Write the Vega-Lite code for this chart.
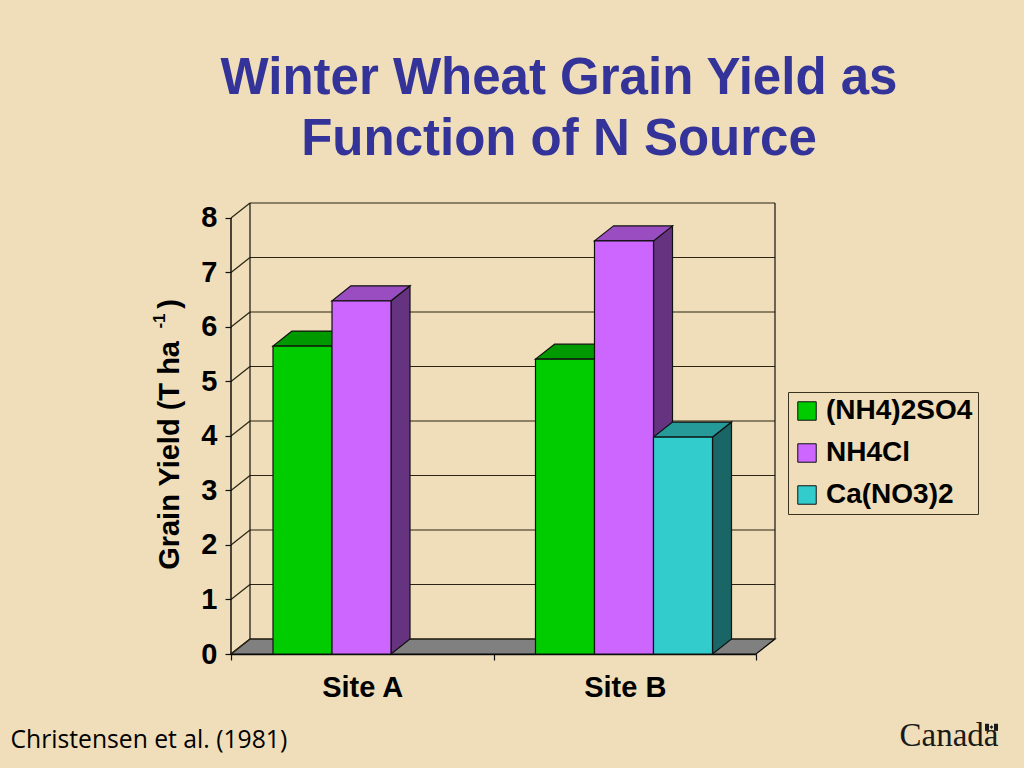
{
"$schema":"https://vega.github.io/schema/vega-lite/v6.json",
"width":544,"height":451,
"autosize":{"type":"none"},
"padding":{"left":231,"top":203,"right":249,"bottom":114},
"background":"#EFDEB9",
"config":{"view":{"stroke":null},"font":"Liberation Sans"},
"title":{"text":["Winter Wheat Grain Yield as","Function of N Source"],"font":"Liberation Sans","fontSize":51,"fontWeight":"bold","color":"#333399","lineHeight":61,"anchor":"middle","dx":56,"offset":36},
"datasets":{
"bars":[
{"site":"Site A","series":"(NH4)2SO4","value":5.65},
{"site":"Site A","series":"NH4Cl","value":6.48},
{"site":"Site B","series":"(NH4)2SO4","value":5.41},
{"site":"Site B","series":"NH4Cl","value":7.58},
{"site":"Site B","series":"Ca(NO3)2","value":3.98}],
"ticks":[{"t":0},{"t":1},{"t":2},{"t":3},{"t":4},{"t":5},{"t":6},{"t":7},{"t":8}],
"sites":[{"site":"Site A"},{"site":"Site B"}],
"depths":[{"d":0},{"d":1}]
},
"resolve":{"scale":{"x":"independent","color":"independent"},"axis":{"x":"independent","y":"independent"}},
"layer":[
{"data":{"name":"depths"},
 "transform":[{"calculate":"19*datum.d","as":"a"},{"calculate":"525+19*datum.d","as":"b"},{"calculate":"0.275*datum.d","as":"h"}],
 "mark":{"type":"area","orient":"horizontal","fill":"#808080","stroke":"black","strokeWidth":1.2},
 "encoding":{"x":{"field":"a","type":"quantitative","scale":{"domain":[0,544]},"axis":null},"x2":{"field":"b"},"y":{"field":"h","type":"quantitative","scale":{"domain":[0,8.275],"nice":false},"axis":null}}},
{"data":{"name":"ticks"},
 "transform":[{"calculate":"datum.t+0.275","as":"h"}],
 "mark":{"type":"rule","color":"#2b2413","strokeWidth":1.2},
 "encoding":{"x":{"datum":19,"type":"quantitative","scale":{"domain":[0,544]},"axis":null},"x2":{"datum":544},"y":{"field":"h","type":"quantitative","scale":{"domain":[0,8.275],"nice":false},"axis":null}}},
{"data":{"name":"ticks"},
 "transform":[{"calculate":"datum.t+0.275","as":"h"}],
 "mark":{"type":"rule","color":"#2b2413","strokeWidth":1.2},
 "encoding":{"x":{"datum":0,"type":"quantitative","scale":{"domain":[0,544]},"axis":null},"x2":{"datum":19},"y":{"field":"t","type":"quantitative","scale":{"domain":[0,8.275],"nice":false},"axis":null},"y2":{"field":"h"}}},
{"data":{"values":[{"wall":"back left"}]},
 "mark":{"type":"rule","color":"#111111","strokeWidth":1.2},
 "encoding":{"x":{"datum":19,"type":"quantitative","scale":{"domain":[0,544]},"axis":null},"y":{"datum":0.275,"type":"quantitative","scale":{"domain":[0,8.275],"nice":false},"axis":null},"y2":{"datum":8.275}}},
{"data":{"values":[{"wall":"back right"}]},
 "mark":{"type":"rule","color":"#111111","strokeWidth":1.2},
 "encoding":{"x":{"datum":544,"type":"quantitative","scale":{"domain":[0,544]},"axis":null},"y":{"datum":0.275,"type":"quantitative","scale":{"domain":[0,8.275],"nice":false},"axis":null},"y2":{"datum":8.275}}},
{"data":{"values":[{"wall":"front left"}]},
 "mark":{"type":"rule","color":"#111111","strokeWidth":1.5},
 "encoding":{"x":{"datum":0,"type":"quantitative","scale":{"domain":[0,544]},"axis":null},"y":{"datum":0,"type":"quantitative","scale":{"domain":[0,8.275],"nice":false},"axis":null},"y2":{"datum":8}}},
{"data":{"name":"bars"},
 "transform":[
  {"calculate":"[0,1]","as":"d"},{"flatten":["d"]},
  {"calculate":"42+262.5*indexof(['Site A','Site B'],datum.site)+59*indexof(['(NH4)2SO4','NH4Cl','Ca(NO3)2'],datum.series)+59+19*datum.d","as":"a"},
  {"calculate":"0.275*datum.d","as":"lo"},{"calculate":"datum.value+0.275*datum.d","as":"hi"},{"calculate":"datum.site+datum.series","as":"bar"}],
 "mark":{"type":"area","stroke":"#111111","strokeWidth":1.2},
 "encoding":{"x":{"field":"a","type":"quantitative","scale":{"domain":[0,544]},"axis":null},"y":{"field":"lo","type":"quantitative","scale":{"domain":[0,8.275],"nice":false},"axis":null},"y2":{"field":"hi"},"detail":{"field":"bar"},
 "color":{"field":"series","type":"nominal","legend":null,"scale":{"domain":["(NH4)2SO4","NH4Cl","Ca(NO3)2"],"range":["#006600","#663380","#1A6666"]}}}},
{"data":{"name":"bars"},
 "transform":[
  {"calculate":"[0,1]","as":"d"},{"flatten":["d"]},
  {"calculate":"42+262.5*indexof(['Site A','Site B'],datum.site)+59*indexof(['(NH4)2SO4','NH4Cl','Ca(NO3)2'],datum.series)+19*datum.d","as":"a"},
  {"calculate":"datum.a+59","as":"b"},
  {"calculate":"datum.value+0.275*datum.d","as":"hi"},{"calculate":"datum.site+datum.series","as":"bar"}],
 "mark":{"type":"area","orient":"horizontal","stroke":"#111111","strokeWidth":1.2},
 "encoding":{"x":{"field":"a","type":"quantitative","scale":{"domain":[0,544]},"axis":null},"x2":{"field":"b"},"y":{"field":"hi","type":"quantitative","scale":{"domain":[0,8.275],"nice":false},"axis":null},"detail":{"field":"bar"},
 "color":{"field":"series","type":"nominal","legend":null,"scale":{"domain":["(NH4)2SO4","NH4Cl","Ca(NO3)2"],"range":["#009900","#9A4DC0","#269999"]}}}},
{"data":{"name":"bars"},
 "transform":[
  {"calculate":"42+262.5*indexof(['Site A','Site B'],datum.site)+59*indexof(['(NH4)2SO4','NH4Cl','Ca(NO3)2'],datum.series)","as":"a"},
  {"calculate":"datum.a+59","as":"b"}],
 "mark":{"type":"rect","stroke":"#111111","strokeWidth":1.2},
 "encoding":{"x":{"field":"a","type":"quantitative","scale":{"domain":[0,544]},"axis":null},"x2":{"field":"b"},"y":{"field":"value","type":"quantitative","scale":{"domain":[0,8.275],"nice":false},
   "axis":{"orient":"left","values":[0,1,2,3,4,5,6,7,8],"format":"d","domain":false,"grid":false,"tickColor":"#111111","tickSize":6,"tickWidth":1.2,"labelFont":"Liberation Sans","labelFontWeight":"bold","labelFontSize":29,"labelColor":"black","labelPadding":8,"title":"Grain Yield (T ha\u00a0\u00a0\u00a0\u00a0)","titleFont":"Liberation Sans","titleFontWeight":"bold","titleFontSize":29,"titleColor":"black","titleX":-47,"titleY":231,"titleAnchor":"middle","titleAngle":270}},"y2":{"datum":0},
 "color":{"field":"series","type":"nominal","scale":{"domain":["(NH4)2SO4","NH4Cl","Ca(NO3)2"],"range":["#00CC00","#CC66FF","#33CCCC"]},
  "legend":{"orient":"none","legendX":557,"legendY":189,"title":null,"fillColor":"transparent","strokeColor":"#3a3320","padding":5,"symbolType":"square","symbolSize":340,"symbolStrokeColor":"#111111","symbolStrokeWidth":1,"symbolOpacity":1,"labelFont":"Liberation Sans","labelFontWeight":"bold","labelFontSize":28,"labelColor":"black","labelOffset":5,"rowPadding":14,"labelLimit":220}}}},
{"data":{"name":"sites"},
 "mark":{"type":"text","text":""},
 "encoding":{"x":{"field":"site","type":"nominal","sort":null,"scale":{"type":"band","domain":["Site A","Site B"],"range":[0,525],"paddingInner":0,"paddingOuter":0},
  "axis":{"orient":"bottom","labelAngle":0,"tickBand":"extent","tickSize":6,"tickColor":"#111111","tickWidth":1.2,"domainColor":"#111111","domainWidth":1.5,"labelFont":"Liberation Sans","labelFontWeight":"bold","labelFontSize":29,"labelColor":"black","labelPadding":13,"title":"Christensen et al. (1981)","titleFont":"Open Sans","titleFontWeight":"normal","titleFontSize":24.7,"titleColor":"black","titleX":-221,"titleY":93,"titleBaseline":"alphabetic","titleAlign":"left","titleAnchor":"start"}}}},
{"data":{"values":[{"mark":"Canada wordmark"}]},
 "mark":{"type":"text","text":""},
 "encoding":{"x":{"datum":0,"type":"quantitative","scale":{"domain":[0,544]},
  "axis":{"orient":"bottom","domain":false,"ticks":false,"labels":false,"grid":false,"title":"Canada","titleFont":"Liberation Serif","titleFontWeight":"normal","titleFontSize":33,"titleColor":"#1a1a1a","titleX":668,"titleY":91,"titleBaseline":"alphabetic","titleAlign":"left","titleAnchor":"start"}}}},
{"data":{"values":[{"flag":"left bar"}]},
 "mark":{"type":"rule","color":"#1a1a1a","strokeWidth":4},
 "encoding":{"x":{"datum":756,"type":"quantitative","scale":{"domain":[0,544]},"axis":null},"y":{"datum":-1.28,"type":"quantitative","scale":{"domain":[0,8.275],"nice":false},"axis":null},"y2":{"datum":-1.41}}},
{"data":{"values":[{"flag":"right bar"}]},
 "mark":{"type":"rule","color":"#1a1a1a","strokeWidth":4},
 "encoding":{"x":{"datum":765,"type":"quantitative","scale":{"domain":[0,544]},"axis":null},"y":{"datum":-1.28,"type":"quantitative","scale":{"domain":[0,8.275],"nice":false},"axis":null},"y2":{"datum":-1.41}}},
{"data":{"values":[{"flag":"leaf"}]},
 "mark":{"type":"point","shape":"diamond","filled":true,"color":"#1a1a1a","size":14,"opacity":1},
 "encoding":{"x":{"datum":760.5,"type":"quantitative","scale":{"domain":[0,544]},"axis":null},"y":{"datum":-1.34,"type":"quantitative","scale":{"domain":[0,8.275],"nice":false},"axis":null}}},
{"data":{"values":[{"label":"-1"}]},
 "mark":{"type":"text","angle":270,"font":"Liberation Sans","fontWeight":"bold","fontSize":17,"color":"black","align":"center","baseline":"alphabetic"},
 "encoding":{"text":{"field":"label"},"x":{"datum":-66,"type":"quantitative","scale":{"domain":[0,544]},"axis":null},"y":{"datum":6.11,"type":"quantitative","scale":{"domain":[0,8.275],"nice":false},"axis":null}}}
]
}
